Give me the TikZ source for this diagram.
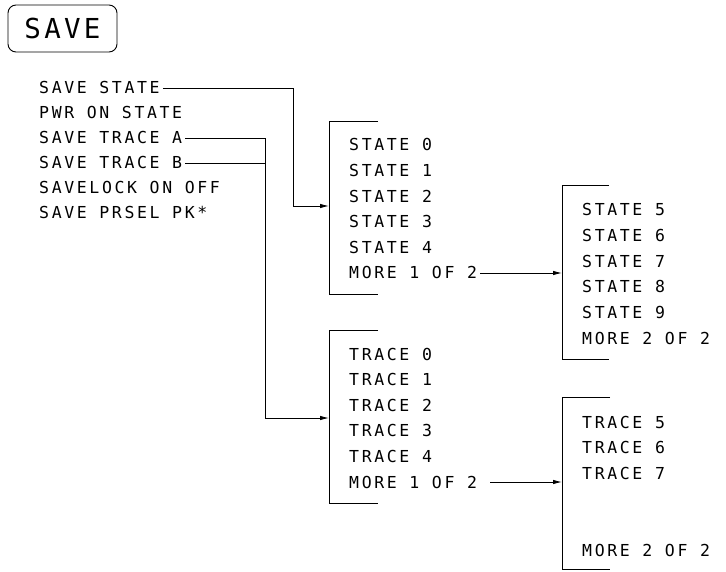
\documentclass[tikz,border=0pt]{standalone}
\usepackage{fontspec}
\newfontfamily\plotfont[LetterSpace=16]{DejaVu Sans Mono}
\newfontfamily\keyfont[LetterSpace=12]{DejaVu Sans Mono}
\usetikzlibrary{arrows.meta}
\begin{document}
\begin{tikzpicture}[x=1pt,y=-1pt,
  item/.style={anchor=west,inner sep=0pt,text height=12pt,text depth=0pt,
    font={\plotfont\fontsize{16.5pt}{18pt}\selectfont}},
  keybox/.style={draw,rounded corners=8pt,line width=0.9pt,minimum width=109pt,
    minimum height=47pt,inner sep=0pt,text height=20pt,text depth=0pt,
    font={\keyfont\fontsize{27.5pt}{30pt}\selectfont}},
  wire/.style={line width=0.9pt},
  arr/.style={wire,-{Latex[length=9pt,width=4.5pt]}},
  bracket/.style={line width=0.9pt}]
\useasboundingbox (0,0) rectangle (726,572);

% key
\node[keybox] (key) at (62.5,28.5) {SAVE};

% main menu
\node[item] (ss)  at (39,88)  {SAVE STATE};
\node[item] (pwr) at (39,113) {PWR ON STATE};
\node[item] (sta) at (39,138) {SAVE TRACE A};
\node[item] (stb) at (39,163) {SAVE TRACE B};
\node[item] (slk) at (39,188) {SAVELOCK ON OFF};
\node[item] (spk) at (39,213) {SAVE PRSEL PK*};

% state menu 1 of 2
\draw[bracket] (378,121) -- (329,121) -- (329,294) -- (378,294);
\node[item] (s0) at (349,145) {STATE 0};
\node[item] (s1) at (349,170.6) {STATE 1};
\node[item] (s2) at (349,196.2) {STATE 2};
\node[item] (s3) at (349,221.8) {STATE 3};
\node[item] (s4) at (349,247.4) {STATE 4};
\node[item] (sm) at (349,273) {MORE 1 OF 2};

% state menu 2 of 2
\draw[bracket] (609,185) -- (562,185) -- (562,359) -- (609,359);
\node[item] (s5) at (582,210) {STATE 5};
\node[item] (s6) at (582,235.6) {STATE 6};
\node[item] (s7) at (582,261.2) {STATE 7};
\node[item] (s8) at (582,286.8) {STATE 8};
\node[item] (s9) at (582,312.4) {STATE 9};
\node[item] (sm2) at (582,338) {MORE 2 OF 2};

% trace menu 1 of 2
\draw[bracket] (378,330) -- (329,330) -- (329,503) -- (378,503);
\node[item] (t0) at (349,354) {TRACE 0};
\node[item] (t1) at (349,379.6) {TRACE 1};
\node[item] (t2) at (349,405.2) {TRACE 2};
\node[item] (t3) at (349,430.8) {TRACE 3};
\node[item] (t4) at (349,456.4) {TRACE 4};
\node[item] (tm) at (349,482) {MORE 1 OF 2};

% trace menu 2 of 2
\draw[bracket] (610,397) -- (562,397) -- (562,569) -- (610,569);
\node[item] (t5) at (582,422) {TRACE 5};
\node[item] (t6) at (582,447.6) {TRACE 6};
\node[item] (t7) at (582,473.2) {TRACE 7};
\node[item] (tm2) at (582,550) {MORE 2 OF 2};

% connector points
\coordinate (j1) at (293,206);
\coordinate (sb1) at (329,206);
\coordinate (j2) at (265,418);
\coordinate (tb1) at (329,418);
\coordinate (sb2x) at (562,0);
\coordinate (tb2x) at (562,0);

% connectors
\draw[arr,shorten <=3pt] (ss.east) -| (j1) -- (sb1);
\draw[arr,shorten <=3pt] (sta.east) -| (j2) -- (tb1);
\draw[wire,shorten <=3pt] (stb.east) -- (stb.east -| j2);
\draw[arr,shorten <=3pt] (sm.east) -- (sm.east -| sb2x);
\draw[arr,shorten <=13pt] (tm.east) -- (tm.east -| tb2x);
\end{tikzpicture}
\end{document}
